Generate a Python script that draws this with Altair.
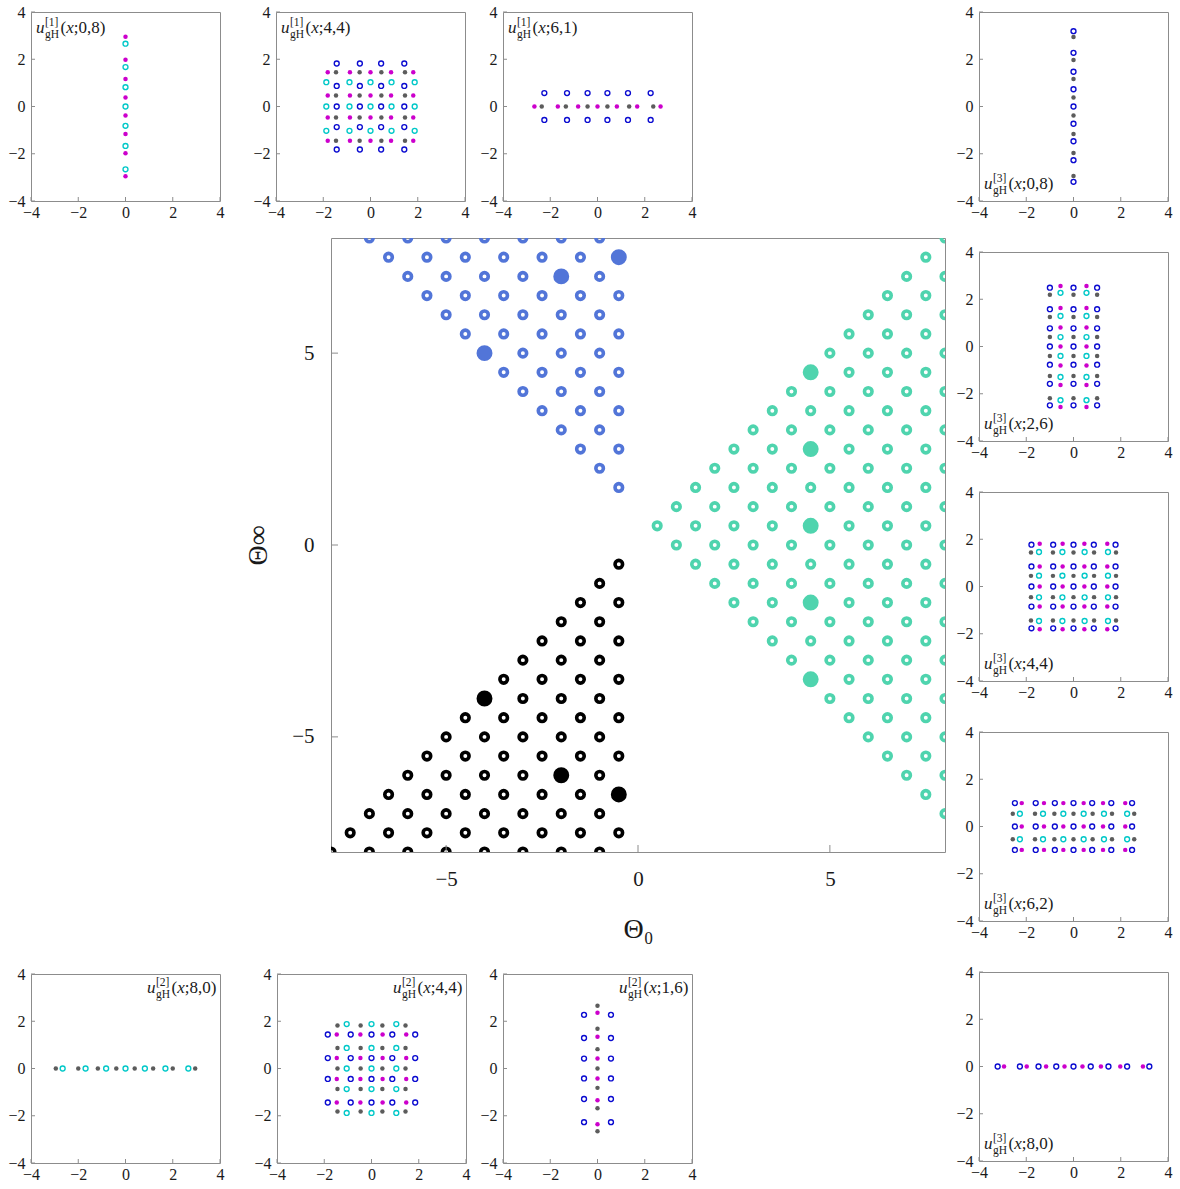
import altair as alt
import numpy as np
import pandas as pd

FONT = "Liberation Serif"
FRAME = "#8c8c8c"
TEXT = "#1a1a1a"

# ---------------- central (Θ0, Θ∞) diagram ----------------
# each row: (Θ∞, first Θ0, last Θ0); neighbouring points in a row are one unit apart
FAMILY1_ROWS = [
    (8.0, -7.0, -1.0), (7.5, -6.5, -0.5), (7.0, -6.0, -1.0), (6.5, -5.5, -0.5),
    (6.0, -5.0, -1.0), (5.5, -4.5, -0.5), (5.0, -4.0, -1.0), (4.5, -3.5, -0.5),
    (4.0, -3.0, -1.0), (3.5, -2.5, -0.5), (3.0, -2.0, -1.0), (2.5, -1.5, -0.5),
    (2.0, -1.0, -1.0), (1.5, -0.5, -0.5),
]
FAMILY2_ROWS = [
    (-0.5, -0.5, -0.5), (-1.0, -1.0, -1.0), (-1.5, -1.5, -0.5), (-2.0, -2.0, -1.0),
    (-2.5, -2.5, -0.5), (-3.0, -3.0, -1.0), (-3.5, -3.5, -0.5), (-4.0, -4.0, -1.0),
    (-4.5, -4.5, -0.5), (-5.0, -5.0, -1.0), (-5.5, -5.5, -0.5), (-6.0, -6.0, -1.0),
    (-6.5, -6.5, -0.5), (-7.0, -7.0, -1.0), (-7.5, -7.5, -0.5), (-8.0, -8.0, -1.0),
]
FAMILY3_ROWS = [
    (8.0, 8.0, 8.0), (7.5, 7.5, 7.5), (7.0, 7.0, 8.0), (6.5, 6.5, 7.5), (6.0, 6.0, 8.0),
    (5.5, 5.5, 7.5), (5.0, 5.0, 8.0), (4.5, 4.5, 7.5), (4.0, 4.0, 8.0), (3.5, 3.5, 7.5),
    (3.0, 3.0, 8.0), (2.5, 2.5, 7.5), (2.0, 2.0, 8.0), (1.5, 1.5, 7.5), (1.0, 1.0, 8.0),
    (0.5, 0.5, 7.5), (0.0, 1.0, 8.0), (-0.5, 1.5, 7.5), (-1.0, 2.0, 8.0), (-1.5, 2.5, 7.5),
    (-2.0, 3.0, 8.0), (-2.5, 3.5, 7.5), (-3.0, 4.0, 8.0), (-3.5, 4.5, 7.5), (-4.0, 5.0, 8.0),
    (-4.5, 5.5, 7.5), (-5.0, 6.0, 8.0), (-5.5, 6.5, 7.5), (-6.0, 7.0, 8.0), (-6.5, 7.5, 7.5),
    (-7.0, 8.0, 8.0),
]
# parameter pairs whose solutions are plotted in the side panels
FAMILY1_MARKED = [(-0.5, 7.5), (-2.0, 7.0), (-4.0, 5.0)]
FAMILY2_MARKED = [(-4.0, -4.0), (-2.0, -6.0), (-0.5, -6.5)]
FAMILY3_MARKED = [(4.5, 4.5), (4.5, 2.5), (4.5, 0.5), (4.5, -1.5), (4.5, -3.5)]

FAMILY_COLORS = {"f1": "#5275d8", "f2": "#000000", "f3": "#4fd4ae"}
MAIN_TICKS = [-5, 0, 5]

# ---------------- side panels: roots / poles in the complex plane ----------------
# rows: (kind, imaginary part, [real parts])
P1_ROWS = [
    ("magenta", 2.95, [0.0]), ("cyan", 2.66, [0.0]), ("magenta", 1.98, [0.0]),
    ("cyan", 1.67, [0.0]), ("magenta", 1.16, [0.0]), ("cyan", 0.82, [0.0]),
    ("magenta", 0.38, [0.0]), ("cyan", 0.0, [0.0]), ("magenta", -0.38, [0.0]),
    ("cyan", -0.82, [0.0]), ("magenta", -1.16, [0.0]), ("cyan", -1.67, [0.0]),
    ("magenta", -1.98, [0.0]), ("cyan", -2.66, [0.0]), ("magenta", -2.95, [0.0]),
]
P2_ROWS = [
    ("blue", 1.82, [-1.43, -0.45, 0.45, 1.43]),
    ("magenta", 1.45, [-1.81, -0.87, 0.0, 0.87, 1.81]),
    ("grey", 1.45, [-1.46, -0.46, 0.46, 1.46]),
    ("cyan", 1.03, [-1.87, -0.89, 0.0, 0.89, 1.87]),
    ("blue", 0.87, [-1.43, -0.45, 0.45, 1.43]),
    ("magenta", 0.47, [-1.81, -0.87, 0.0, 0.87, 1.81]),
    ("grey", 0.47, [-1.46, -0.46, 0.46, 1.46]),
    ("cyan", 0.0, [-1.87, -0.89, 0.0, 0.89, 1.87]),
    ("blue", 0.0, [-1.43, -0.45, 0.45, 1.43]),
    ("magenta", -0.47, [-1.81, -0.87, 0.0, 0.87, 1.81]),
    ("grey", -0.47, [-1.46, -0.46, 0.46, 1.46]),
    ("blue", -0.87, [-1.43, -0.45, 0.45, 1.43]),
    ("cyan", -1.03, [-1.87, -0.89, 0.0, 0.89, 1.87]),
    ("magenta", -1.45, [-1.81, -0.87, 0.0, 0.87, 1.81]),
    ("grey", -1.45, [-1.46, -0.46, 0.46, 1.46]),
    ("blue", -1.82, [-1.43, -0.45, 0.45, 1.43]),
]
P3_ROWS = [
    ("blue", 0.57, [-2.25, -1.29, -0.42, 0.42, 1.29, 2.25]),
    ("magenta", 0.0, [-2.67, -1.68, -0.82, 0.0, 0.82, 1.68, 2.67]),
    ("grey", 0.0, [-2.36, -1.34, -0.42, 0.42, 1.34, 2.36]),
    ("blue", -0.57, [-2.25, -1.29, -0.42, 0.42, 1.29, 2.25]),
]
R1_ROWS = [
    ("blue", 3.19, [0.0]), ("grey", 2.94, [0.0]), ("blue", 2.27, [0.0]),
    ("grey", 1.97, [0.0]), ("blue", 1.47, [0.0]), ("grey", 1.16, [0.0]),
    ("blue", 0.73, [0.0]), ("grey", 0.38, [0.0]), ("blue", 0.0, [0.0]),
    ("grey", -0.38, [0.0]), ("blue", -0.73, [0.0]), ("grey", -1.16, [0.0]),
    ("blue", -1.47, [0.0]), ("grey", -1.97, [0.0]), ("blue", -2.27, [0.0]),
    ("grey", -2.94, [0.0]), ("blue", -3.19, [0.0]),
]
R2_ROWS = [
    ("magenta", 2.56, [-0.55, 0.55]), ("blue", 2.49, [-1.0, 0.0, 1.0]),
    ("cyan", 2.27, [-0.55, 0.55]), ("grey", 2.19, [-1.0, 0.0, 1.0]),
    ("magenta", 1.63, [-0.55, 0.55]), ("blue", 1.58, [-1.0, 0.0, 1.0]),
    ("cyan", 1.29, [-0.55, 0.55]), ("grey", 1.25, [-1.0, 0.0, 1.0]),
    ("magenta", 0.8, [-0.55, 0.55]), ("blue", 0.77, [-1.0, 0.0, 1.0]),
    ("cyan", 0.4, [-0.55, 0.55]), ("grey", 0.4, [-1.0, 0.0, 1.0]),
    ("magenta", 0.0, [-0.55, 0.55]), ("blue", 0.0, [-1.0, 0.0, 1.0]),
    ("cyan", -0.4, [-0.55, 0.55]), ("grey", -0.4, [-1.0, 0.0, 1.0]),
    ("magenta", -0.8, [-0.55, 0.55]), ("blue", -0.77, [-1.0, 0.0, 1.0]),
    ("cyan", -1.29, [-0.55, 0.55]), ("grey", -1.25, [-1.0, 0.0, 1.0]),
    ("magenta", -1.63, [-0.55, 0.55]), ("blue", -1.58, [-1.0, 0.0, 1.0]),
    ("cyan", -2.27, [-0.55, 0.55]), ("grey", -2.19, [-1.0, 0.0, 1.0]),
    ("magenta", -2.56, [-0.55, 0.55]), ("blue", -2.49, [-1.0, 0.0, 1.0]),
]
R3_ROWS = [
    ("magenta", 1.81, [-1.43, -0.46, 0.46, 1.43]),
    ("blue", 1.77, [-1.78, -0.86, 0.0, 0.86, 1.78]),
    ("cyan", 1.46, [-1.46, -0.47, 0.47, 1.46]),
    ("grey", 1.44, [-1.8, -0.87, 0.0, 0.87, 1.8]),
    ("magenta", 0.85, [-1.43, -0.46, 0.46, 1.43]),
    ("blue", 0.85, [-1.78, -0.86, 0.0, 0.86, 1.78]),
    ("cyan", 0.46, [-1.46, -0.47, 0.47, 1.46]),
    ("grey", 0.45, [-1.8, -0.87, 0.0, 0.87, 1.8]),
    ("magenta", 0.0, [-1.43, -0.46, 0.46, 1.43]),
    ("blue", 0.0, [-1.78, -0.86, 0.0, 0.86, 1.78]),
    ("cyan", -0.46, [-1.46, -0.47, 0.47, 1.46]),
    ("grey", -0.45, [-1.8, -0.87, 0.0, 0.87, 1.8]),
    ("magenta", -0.85, [-1.43, -0.46, 0.46, 1.43]),
    ("blue", -0.85, [-1.78, -0.86, 0.0, 0.86, 1.78]),
    ("cyan", -1.46, [-1.46, -0.47, 0.47, 1.46]),
    ("grey", -1.44, [-1.8, -0.87, 0.0, 0.87, 1.8]),
    ("magenta", -1.81, [-1.43, -0.46, 0.46, 1.43]),
    ("blue", -1.77, [-1.78, -0.86, 0.0, 0.86, 1.78]),
]
R4_ROWS = [
    ("blue", 0.99, [-2.48, -1.6, -0.79, 0.0, 0.79, 1.6, 2.48]),
    ("magenta", 0.99, [-2.19, -1.25, -0.43, 0.43, 1.25, 2.19]),
    ("grey", 0.54, [-2.57, -1.63, -0.81, 0.0, 0.81, 1.63, 2.57]),
    ("cyan", 0.54, [-2.27, -1.29, -0.43, 0.43, 1.29, 2.27]),
    ("blue", 0.0, [-2.48, -1.6, -0.79, 0.0, 0.79, 1.6, 2.48]),
    ("magenta", 0.0, [-2.19, -1.25, -0.43, 0.43, 1.25, 2.19]),
    ("grey", -0.54, [-2.57, -1.63, -0.81, 0.0, 0.81, 1.63, 2.57]),
    ("cyan", -0.54, [-2.27, -1.29, -0.43, 0.43, 1.29, 2.27]),
    ("blue", -0.99, [-2.48, -1.6, -0.79, 0.0, 0.79, 1.6, 2.48]),
    ("magenta", -0.99, [-2.19, -1.25, -0.43, 0.43, 1.25, 2.19]),
]
R5_ROWS = [
    ("blue", 0.0, [-3.21, -2.27, -1.48, -0.73, 0.0, 0.73, 1.48, 2.27, 3.21]),
    ("magenta", 0.0, [-2.94, -1.98, -1.16, -0.38, 0.38, 1.16, 1.98, 2.94]),
]
B1_ROWS = [
    ("grey", 0.0, [-2.95, -2.0, -1.17, -0.39, 0.39, 1.17, 2.0, 2.95]),
    ("cyan", 0.0, [-2.66, -1.69, -0.82, 0.0, 0.82, 1.69, 2.66]),
]
B2_ROWS = [
    ("cyan", 1.88, [-1.05, 0.0, 1.05]),
    ("grey", 1.82, [-1.44, -0.46, 0.46, 1.44]),
    ("blue", 1.44, [-1.85, -0.88, 0.0, 0.88, 1.85]),
    ("magenta", 1.44, [-1.47, -0.47, 0.47, 1.47]),
    ("grey", 0.87, [-1.44, -0.46, 0.46, 1.44]),
    ("cyan", 0.87, [-1.05, 0.0, 1.05]),
    ("blue", 0.44, [-1.85, -0.88, 0.0, 0.88, 1.85]),
    ("magenta", 0.44, [-1.47, -0.47, 0.47, 1.47]),
    ("grey", 0.0, [-1.44, -0.46, 0.46, 1.44]),
    ("cyan", 0.0, [-1.05, 0.0, 1.05]),
    ("blue", -0.44, [-1.85, -0.88, 0.0, 0.88, 1.85]),
    ("magenta", -0.44, [-1.47, -0.47, 0.47, 1.47]),
    ("grey", -0.87, [-1.44, -0.46, 0.46, 1.44]),
    ("cyan", -0.87, [-1.05, 0.0, 1.05]),
    ("blue", -1.44, [-1.85, -0.88, 0.0, 0.88, 1.85]),
    ("magenta", -1.44, [-1.47, -0.47, 0.47, 1.47]),
    ("grey", -1.82, [-1.44, -0.46, 0.46, 1.44]),
    ("cyan", -1.88, [-1.05, 0.0, 1.05]),
]
B3_ROWS = [
    ("grey", 2.66, [0.0]), ("magenta", 2.36, [0.0]), ("blue", 2.27, [-0.57, 0.57]),
    ("grey", 1.68, [0.0]), ("magenta", 1.34, [0.0]), ("blue", 1.29, [-0.57, 0.57]),
    ("grey", 0.82, [0.0]), ("magenta", 0.42, [0.0]), ("blue", 0.42, [-0.57, 0.57]),
    ("grey", 0.0, [0.0]),
    ("magenta", -0.42, [0.0]), ("blue", -0.42, [-0.57, 0.57]), ("grey", -0.82, [0.0]),
    ("magenta", -1.34, [0.0]), ("blue", -1.29, [-0.57, 0.57]), ("grey", -1.68, [0.0]),
    ("magenta", -2.36, [0.0]), ("blue", -2.27, [-0.57, 0.57]), ("grey", -2.66, [0.0]),
]

# marker colours; cyan and blue are drawn hollow, magenta and grey filled
KIND_COLORS = {"magenta": "#cc00cc", "grey": "#5c5c5c", "cyan": "#00c8c8", "blue": "#0a0ad0"}
HOLLOW = {"cyan", "blue"}
SMALL_TICKS = [-4, -2, 0, 2, 4]

PW = 189          # side panel plot size
MW = 614          # central plot size
ONE = pd.DataFrame({"k": [0]})


def lattice_frame(rows):
    recs = []
    for tinf, first, last in rows:
        for t0 in np.arange(first, last + 0.5, 1.0):
            recs.append({"t0": float(t0), "tinf": tinf})
    return pd.DataFrame(recs)


def rows_frame(rows, kind):
    recs = []
    for k, im, res in rows:
        if k == kind:
            for re in res:
                recs.append({"re": re, "im": im})
    return pd.DataFrame(recs)


def text_piece(text, x, y, size, style="normal"):
    return alt.Chart(ONE).mark_text(
        text=text, font=FONT, fontSize=size, fontStyle=style, color=TEXT,
        align="left", baseline="alphabetic",
    ).encode(x=alt.value(x), y=alt.value(y))


def formula(family, params, x0, y0):
    """u_gH^[family](x; params) built from separately styled pieces."""
    return [
        text_piece("u", x0, y0, 17, "italic"),
        text_piece(f"[{family}]", x0 + 9, y0 - 7.5, 11.5),
        text_piece("gH", x0 + 9, y0 + 4.5, 11.5),
        text_piece("(", x0 + 24.5, y0, 17),
        text_piece("x", x0 + 30.2, y0, 17, "italic"),
        text_piece(f";{params})", x0 + 37.8, y0, 17),
    ]


def panel(rows, family, params, corner):
    xs = alt.Scale(domain=[-4, 4], nice=False, zero=False)
    ys = alt.Scale(domain=[-4, 4], nice=False, zero=False)
    xax = alt.Axis(values=SMALL_TICKS, title=None, labelFontSize=16, labelPadding=3)
    yax = alt.Axis(values=SMALL_TICKS, title=None, labelFontSize=16, labelPadding=6)
    layers = []
    for kind in ["cyan", "blue", "magenta", "grey"]:
        df = rows_frame(rows, kind)
        if df.empty:
            continue
        if kind in HOLLOW:
            mark = alt.Chart(df).mark_point(
                filled=False, size=24, strokeWidth=1.4, opacity=1, color=KIND_COLORS[kind]
            )
        else:
            mark = alt.Chart(df).mark_circle(size=20, opacity=1, color=KIND_COLORS[kind])
        layers.append(mark.encode(
            x=alt.X("re:Q", scale=xs, axis=xax),
            y=alt.Y("im:Q", scale=ys, axis=yax),
        ))
    tdf = pd.DataFrame({"t": SMALL_TICKS})
    layers.append(alt.Chart(tdf).mark_rule(color=FRAME, strokeWidth=1).encode(
        x=alt.X("t:Q", scale=xs, axis=xax), y=alt.value(PW), y2=alt.value(PW - 4)
    ))
    layers.append(alt.Chart(tdf).mark_rule(color=FRAME, strokeWidth=1).encode(
        y=alt.Y("t:Q", scale=ys, axis=yax), x=alt.value(0), x2=alt.value(4)
    ))
    if corner == "tl":
        layers += formula(family, params, 5, 21)
    elif corner == "bl":
        layers += formula(family, params, 5, PW - 12)
    else:
        layers += formula(family, params, PW - 73, 19)
    return alt.layer(*layers).properties(width=PW, height=PW)


# ---------------- central chart ----------------
mxs = alt.Scale(domain=[-8, 8], nice=False, zero=False)
mys = alt.Scale(domain=[-8, 8], nice=False, zero=False)
mx_axis = alt.Axis(values=MAIN_TICKS, labelFontSize=21, labelPadding=16, title="Θ₀",
                   titleFontSize=28, titlePadding=26)
my_axis = alt.Axis(values=MAIN_TICKS, labelFontSize=21, labelPadding=17, title="Θ∞",
                   titleFontSize=28, titlePadding=19)


def main_enc(chart, xf, yf):
    return chart.encode(
        x=alt.X(f"{xf}:Q", scale=mxs, axis=mx_axis),
        y=alt.Y(f"{yf}:Q", scale=mys, axis=my_axis),
    )


main_layers = []
for fam, rows in [("f1", FAMILY1_ROWS), ("f2", FAMILY2_ROWS), ("f3", FAMILY3_ROWS)]:
    main_layers.append(main_enc(
        alt.Chart(lattice_frame(rows)).mark_point(
            filled=False, size=57, strokeWidth=3.6, opacity=1, clip=True, color=FAMILY_COLORS[fam]
        ), "t0", "tinf"))
for fam, pts in [("f1", FAMILY1_MARKED), ("f2", FAMILY2_MARKED), ("f3", FAMILY3_MARKED)]:
    df = pd.DataFrame(pts, columns=["t0", "tinf"])
    main_layers.append(main_enc(
        alt.Chart(df).mark_circle(size=254, opacity=1, clip=True, color=FAMILY_COLORS[fam]),
        "t0", "tinf"))

mt = pd.DataFrame({"t": MAIN_TICKS})
main_layers.append(alt.Chart(mt).mark_rule(color=FRAME).encode(
    x=alt.X("t:Q", scale=mxs, axis=mx_axis), y=alt.value(MW), y2=alt.value(MW - 7)
))
main_layers.append(alt.Chart(mt).mark_rule(color=FRAME).encode(
    y=alt.Y("t:Q", scale=mys, axis=my_axis), x=alt.value(0), x2=alt.value(7)
))
main = alt.layer(*main_layers).properties(width=MW, height=MW)

spacer = alt.Chart(ONE).mark_point(opacity=0, size=1).encode(
    x=alt.value(0), y=alt.value(0)
).properties(width=212, height=1, view=alt.ViewBackground(stroke="transparent"))

# ---------------- assemble ----------------
top_row = alt.hconcat(
    alt.hconcat(panel(P1_ROWS, 1, "0,8", "tl"), panel(P2_ROWS, 1, "4,4", "tl"), spacing=27),
    panel(P3_ROWS, 1, "6,1", "tl"), spacing=9,
)
bottom_row = alt.hconcat(
    alt.hconcat(panel(B1_ROWS, 2, "8,0", "tr"), panel(B2_ROWS, 2, "4,4", "tr"), spacing=28),
    panel(B3_ROWS, 2, "1,6", "tr"), spacing=8,
)
middle_row = alt.hconcat(spacer, main, spacing=0)
left_block = alt.vconcat(alt.vconcat(top_row, middle_row, spacing=16), bottom_row, spacing=21)
right_col = alt.vconcat(
    panel(R1_ROWS, 3, "0,8", "bl"),
    panel(R2_ROWS, 3, "2,6", "bl"),
    panel(R3_ROWS, 3, "4,4", "bl"),
    panel(R4_ROWS, 3, "6,2", "bl"),
    panel(R5_ROWS, 3, "8,0", "bl"),
    spacing=22,
)

chart = alt.hconcat(left_block, right_col, spacing=9).properties(
    padding={"left": 7, "top": 3, "right": 2, "bottom": 2},
    background="white",
).configure_view(
    stroke=FRAME, strokeWidth=1
).configure_axis(
    grid=False, domain=False, ticks=False, labelFont=FONT, titleFont=FONT,
    labelColor=TEXT, titleColor=TEXT, labelFlush=False, labelOverlap=False,
    titleFontWeight="normal",
)

chart.save("out.html", embed_options={"renderer": "svg", "actions": False})
